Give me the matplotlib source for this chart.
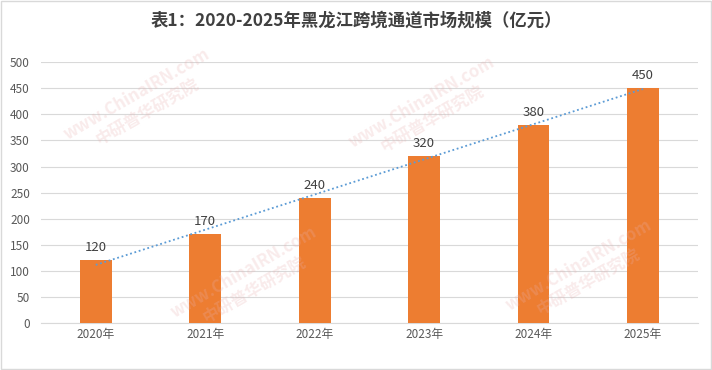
import numpy as np
import matplotlib.pyplot as plt
from matplotlib.patches import Rectangle

plt.rcParams['font.family'] = ['Noto Sans CJK SC', 'DejaVu Sans']

years = ['2020年', '2021年', '2022年', '2023年', '2024年', '2025年']
values = [120, 170, 240, 320, 380, 450]
title = '表1：2020-2025年黑龙江跨境通道市场规模（亿元）'

fig = plt.figure(figsize=(7.12, 3.7), dpi=100)
ax = fig.add_axes([0.0576, 0.127, 0.9224, 0.705])

x = np.arange(len(years))
ax.bar(x, values, width=0.29, color='#ED7D31', zorder=3)

# linear trendline
k, b = np.polyfit(x, values, 1)
ax.plot(x, k * x + b, linestyle=(0, (1, 1.5)), color='#5B9BD5', linewidth=1.3, zorder=4)

for xi, v in zip(x, values):
    ax.text(xi, v + 12, str(v), ha='center', va='bottom', fontsize=9.5, color='#404040', zorder=5)

ax.set_xlim(-0.5, len(years) - 0.5)
ax.set_ylim(0, 500)
ax.set_yticks(np.arange(0, 501, 50))
ax.set_xticks(x)
ax.set_xticklabels(years)
ax.tick_params(axis='both', length=0, labelsize=8.5, colors='#595959')
ax.tick_params(axis='y', pad=8)
ax.grid(axis='y', color='#D9D9D9', linewidth=0.8, zorder=0)
for s in ['top', 'right', 'left']:
    ax.spines[s].set_visible(False)
ax.spines['bottom'].set_color('#D9D9D9')

fig.text(0.5, 0.945, title, ha='center', va='center', fontsize=12.5, fontweight='bold', color='#404040')

# faint watermarks
for wx, wy in [(0.2, 0.72), (0.6, 0.7), (0.35, 0.24), (0.82, 0.26)]:
    fig.text(wx, wy, 'www.ChinaIRN.com\n中研普华研究院', ha='center', va='center', rotation=30,
             fontsize=12, fontweight='bold', color='#E8B0B0', alpha=0.25, zorder=0)

fig.patches.append(Rectangle((0.002, 0.003), 0.996, 0.994, transform=fig.transFigure,
                             fill=False, edgecolor='#D9D9D9', linewidth=1))

fig.savefig('out.png', dpi=100)
